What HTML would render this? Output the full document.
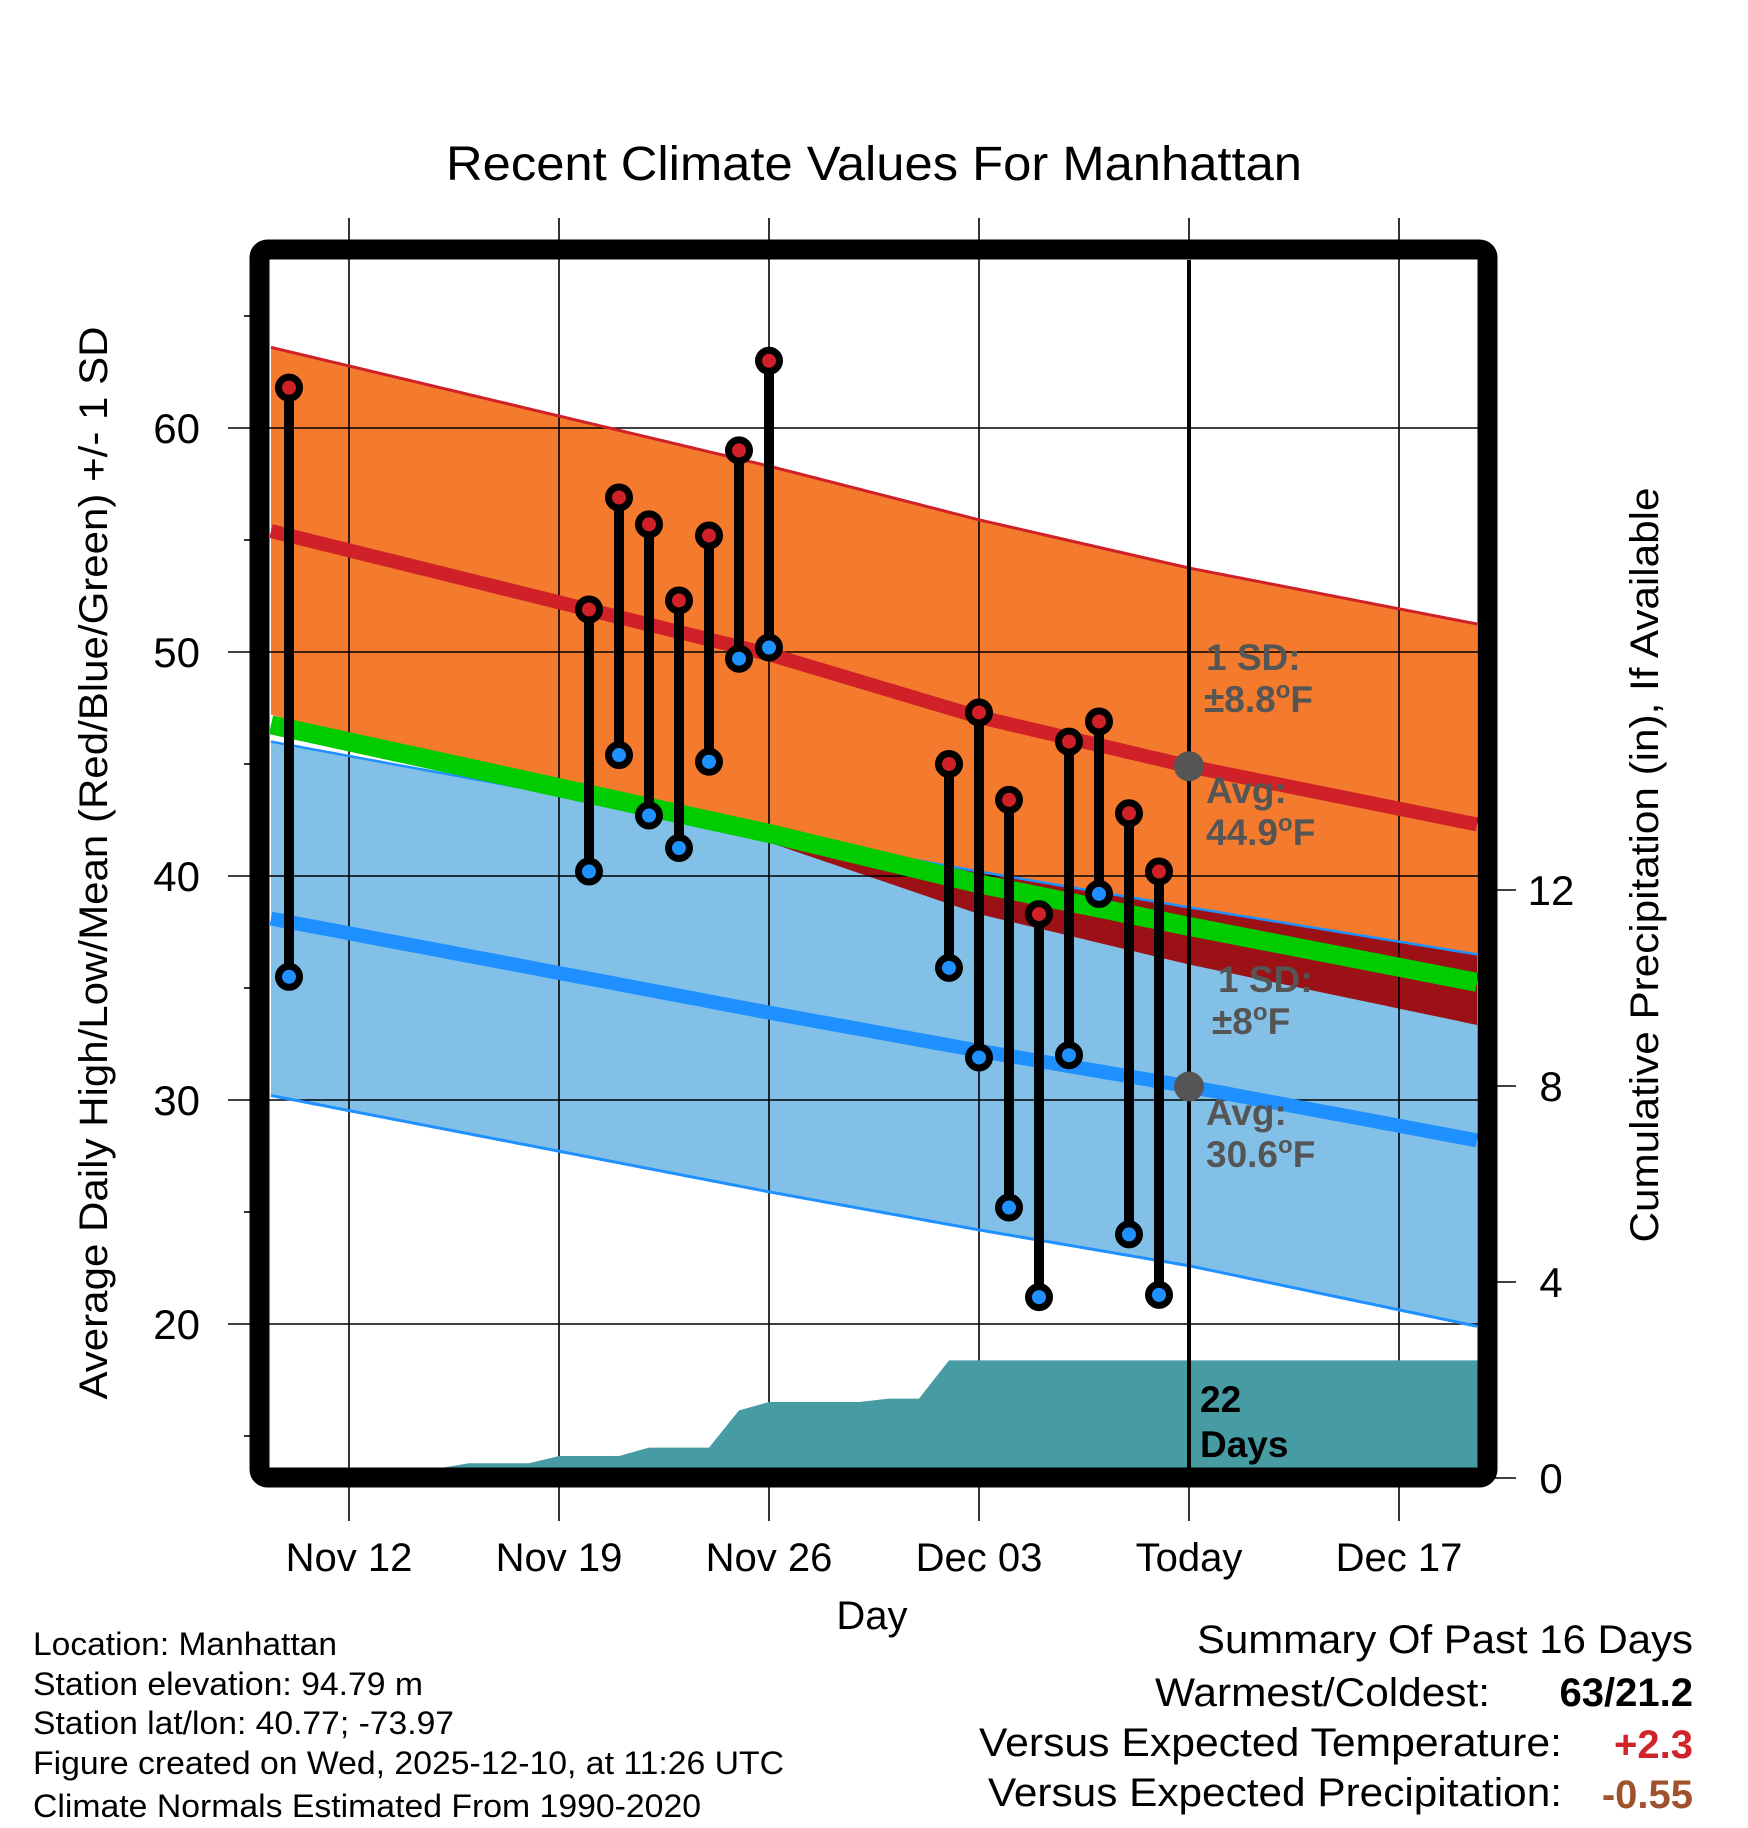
<!DOCTYPE html>
<html><head><meta charset="utf-8"><style>
html,body{margin:0;padding:0;background:#fff;}
svg{display:block;font-family:"Liberation Sans",Arial,sans-serif;}
</style></head><body>
<svg id="chart" width="1748" height="1828" viewBox="0 0 1748 1828" xmlns="http://www.w3.org/2000/svg">
<defs><clipPath id="plotclip"><rect x="270" y="260" width="1208" height="1209"/></clipPath></defs>
<rect width="1748" height="1828" fill="#fff"/>
<text x="874" y="180" font-size="48" text-anchor="middle" textLength="856" lengthAdjust="spacingAndGlyphs">Recent Climate Values For Manhattan</text>
<g id="fills" clip-path="url(#plotclip)"></g>
<g id="grid"></g>
<g id="precip" clip-path="url(#plotclip)"></g>
<g id="normlines" clip-path="url(#plotclip)"></g>
<line x1="1189" y1="260" x2="1189" y2="1469" stroke="#000" stroke-width="4"/>
<g id="annot" font-weight="bold" font-size="37" fill="#555">
<text x="1206" y="670">1 SD:</text>
<text x="1204" y="712">±8.8<tspan font-size="24" dy="-14">o</tspan><tspan dy="14">F</tspan></text>
<text x="1206" y="803">Avg:</text>
<text x="1206" y="845">44.9<tspan font-size="24" dy="-14">o</tspan><tspan dy="14">F</tspan></text>
<text x="1218" y="992">1 SD:</text>
<text x="1212" y="1034">±8<tspan font-size="24" dy="-14">o</tspan><tspan dy="14">F</tspan></text>
<text x="1206" y="1125">Avg:</text>
<text x="1206" y="1167">30.6<tspan font-size="24" dy="-14">o</tspan><tspan dy="14">F</tspan></text>
<text x="1200" y="1412" fill="#000">22</text>
<text x="1200" y="1457" fill="#000">Days</text>
</g>
<g id="avgdots"></g>
<g id="points"></g>
<rect x="259.5" y="249.5" width="1228" height="1228" rx="8" fill="none" stroke="#000" stroke-width="20"/>
<g id="labels"></g>
<text transform="translate(107,863) rotate(-90)" font-size="40" text-anchor="middle" textLength="1073" lengthAdjust="spacingAndGlyphs">Average Daily High/Low/Mean (Red/Blue/Green) +/- 1 SD</text>
<text transform="translate(1658,865) rotate(-90)" font-size="40" text-anchor="middle" textLength="755" lengthAdjust="spacingAndGlyphs">Cumulative Precipitation (in), If Available</text>
<text x="872" y="1629" font-size="40" text-anchor="middle">Day</text>
<g id="footer" font-size="32">
<text x="33" y="1655" textLength="304" lengthAdjust="spacingAndGlyphs">Location: Manhattan</text>
<text x="33" y="1695" textLength="390" lengthAdjust="spacingAndGlyphs">Station elevation: 94.79 m</text>
<text x="33" y="1734" textLength="421" lengthAdjust="spacingAndGlyphs">Station lat/lon: 40.77; -73.97</text>
<text x="33" y="1774" textLength="751" lengthAdjust="spacingAndGlyphs">Figure created on Wed, 2025-12-10, at 11:26 UTC</text>
<text x="33" y="1817" textLength="668" lengthAdjust="spacingAndGlyphs">Climate Normals Estimated From 1990-2020</text>
</g>
<g id="summary" font-size="40" text-anchor="end">
<text x="1693" y="1653" textLength="496" lengthAdjust="spacingAndGlyphs">Summary Of Past 16 Days</text>
<text x="1490" y="1706" textLength="335" lengthAdjust="spacingAndGlyphs">Warmest/Coldest:</text>
<text x="1693" y="1706" font-weight="bold">63/21.2</text>
<text x="1562" y="1756" textLength="583" lengthAdjust="spacingAndGlyphs">Versus Expected Temperature:</text>
<text x="1693" y="1758" font-weight="bold" fill="#D0242A">+2.3</text>
<text x="1562" y="1806" textLength="574" lengthAdjust="spacingAndGlyphs">Versus Expected Precipitation:</text>
<text x="1693" y="1808" font-weight="bold" fill="#A0522D">-0.55</text>
</g>
<script>
// ---- data ----
const obsDays = [-2, 8, 9, 10, 11, 12, 13, 14, 20, 21, 22, 23, 24, 25, 26, 27];
const obsHigh = [61.8, 51.9, 56.9, 55.7, 52.3, 55.2, 59.0, 63.0, 45.0, 47.3, 43.4, 38.3, 46.0, 46.9, 42.8, 40.2];
const obsLow  = [35.5, 40.2, 45.4, 42.7, 41.25, 45.1, 49.7, 50.2, 35.9, 31.9, 25.2, 21.2, 32.0, 39.2, 24.0, 21.3];
const normDays = [-2.6, 14, 21, 28, 37.6];
const highMean = [55.4, 49.9, 47.1, 44.9, 42.3];
const highSD   = [8.2, 8.4, 8.8, 8.85, 8.95];
const lowMean  = [38.1, 33.9, 32.2, 30.6, 28.2];
const lowSD    = [7.9, 8.0, 8.0, 8.0, 8.3];
const precipDays = [-3,-2,-1,0,1,2,3,4,5,6,7,8,9,10,11,12,13,14,15,16,17,18,19,20,21,22,23,24,25,26,27,28,29,30,31,32,33,34,35,36,37,38];
const precipCum  = [0.2,0.2,0.2,0.2,0.2,0.2,0.2,0.3,0.3,0.3,0.45,0.45,0.45,0.62,0.62,0.62,1.38,1.55,1.55,1.55,1.55,1.62,1.62,2.4,2.4,2.4,2.4,2.4,2.4,2.4,2.4,2.4,2.4,2.4,2.4,2.4,2.4,2.4,2.4,2.4,2.4,2.4];
const xTickDays = [0, 7, 14, 21, 28, 35];
const xTickLabels = ["Nov 12", "Nov 19", "Nov 26", "Dec 03", "Today", "Dec 17"];
const yTicks = [20, 30, 40, 50, 60];
const yMinor = [15, 25, 35, 45, 55, 65];
const pTicks = [0, 4, 8, 12];
const todayDay = 28;
// ---- axes ----
const X = d => 349 + d * 30;
const Y = t => 428 + (60 - t) * 22.4;
const P = p => 1478 - p * 49;
const NS = "http://www.w3.org/2000/svg";
function mk(tag, attrs, parent) {
  const e = document.createElementNS(NS, tag);
  for (const k in attrs) e.setAttribute(k, attrs[k]);
  parent.appendChild(e);
  return e;
}
function interp(arr, d) {
  const n = normDays.length;
  let i = 0;
  while (i < n - 2 && d > normDays[i+1]) i++;
  const t = (d - normDays[i]) / (normDays[i+1] - normDays[i]);
  return arr[i] + t * (arr[i+1] - arr[i]);
}
const samp = [];
for (let d = normDays[0]; d <= normDays[normDays.length-1] + 0.001; d += 0.2) samp.push(d);
const hU = d => interp(highMean,d)+interp(highSD,d);
const hL = d => interp(highMean,d)-interp(highSD,d);
const lU = d => interp(lowMean,d)+interp(lowSD,d);
const lL = d => interp(lowMean,d)-interp(lowSD,d);
const mean = d => (interp(highMean,d)+interp(lowMean,d))/2;
function band(fu, fl) {
  const top = samp.map(d => X(d)+","+Y(fu(d)));
  const bot = samp.slice().reverse().map(d => X(d)+","+Y(fl(d)));
  return top.concat(bot).join(" ");
}
function line(f) { return samp.map(d => X(d)+","+Y(f(d))).join(" "); }
const fills = document.getElementById("fills");
let e;
e = mk("polygon", {points: band(hU, hL), fill: "#F47A2D"}, fills);


e = mk("polygon", {points: band(lU, lL), fill: "#82C0E8"}, fills);


e = mk("polygon", {points: band(lU, d => Math.min(hL(d), lU(d))), fill: "#9B1115"}, fills);


// grid
const grid = document.getElementById("grid");
xTickDays.forEach((d, i) => {
  if (d !== todayDay) {
    e = mk("line", {x1: X(d), x2: X(d), y1: 218, y2: 1521, stroke: "#000", "stroke-width": 1.6}, grid);
  } else {
    e = mk("line", {x1: X(d), x2: X(d), y1: 1487, y2: 1521, stroke: "#000", "stroke-width": 1.6}, grid);
    mk("line", {x1: X(d), x2: X(d), y1: 218, y2: 240, stroke: "#000", "stroke-width": 1.6}, grid);
  }
  
  
});
yTicks.forEach(t => {
  e = mk("line", {x1: 228, x2: 1478, y1: Y(t), y2: Y(t), stroke: "#000", "stroke-width": 1.6}, grid);
  
  
});
yMinor.forEach(t => {
  e = mk("line", {x1: 244, x2: 252, y1: Y(t), y2: Y(t), stroke: "#000", "stroke-width": 1.6}, grid);
  
  
});
pTicks.forEach(p => {
  e = mk("line", {x1: 1494, x2: 1516, y1: P(p), y2: P(p), stroke: "#000", "stroke-width": 1.6}, grid);
  
  
});
// precip area
const pg = document.getElementById("precip");
let pts = precipDays.map((d, i) => X(d)+","+P(precipCum[i]));
pts.push(X(precipDays[precipDays.length-1])+","+P(0));
pts.push(X(precipDays[0])+","+P(0));
e = mk("polygon", {points: pts.join(" "), fill: "#479BA2"}, pg);


// norm lines
const nl = document.getElementById("normlines");
e = mk("polyline", {points: line(hU), fill: "none", stroke: "#CF2127", "stroke-width": 3}, nl);


e = mk("polyline", {points: line(lU), fill: "none", stroke: "#1E90FF", "stroke-width": 2.5}, nl);


e = mk("polyline", {points: line(lL), fill: "none", stroke: "#1E90FF", "stroke-width": 3}, nl);


e = mk("polyline", {points: line(d => interp(highMean,d)), fill: "none", stroke: "#CF2127", "stroke-width": 14}, nl);


e = mk("polyline", {points: line(d => interp(lowMean,d)), fill: "none", stroke: "#1E90FF", "stroke-width": 14}, nl);


e = mk("polyline", {points: line(mean), fill: "none", stroke: "#00CC00", "stroke-width": 19}, nl);


// avg dots
const ad = document.getElementById("avgdots");
e = mk("circle", {cx: X(todayDay), cy: Y(interp(highMean,todayDay)), r: 15, fill: "#555"}, ad);


e = mk("circle", {cx: X(todayDay), cy: Y(interp(lowMean,todayDay)), r: 15, fill: "#555"}, ad);


// observations
const pgp = document.getElementById("points");
obsDays.forEach((d, i) => {
  const g = mk("g", {}, pgp);
  
  
  mk("line", {x1: X(d), x2: X(d), y1: Y(obsHigh[i]), y2: Y(obsLow[i]), stroke: "#000", "stroke-width": 10}, g);
  let c = mk("circle", {cx: X(d), cy: Y(obsHigh[i]), r: 10.5, fill: "#CF2127", stroke: "#000", "stroke-width": 7}, g);
  
  
  c = mk("circle", {cx: X(d), cy: Y(obsLow[i]), r: 10.5, fill: "#1E90FF", stroke: "#000", "stroke-width": 7}, g);
  
  
});
// labels
const lb = document.getElementById("labels");
xTickDays.forEach((d, i) => {
  e = mk("text", {x: X(d), y: 1571, "font-size": 40, "text-anchor": "middle"}, lb);
  e.textContent = xTickLabels[i];
  
  
});
yTicks.forEach(t => {
  e = mk("text", {x: 200, y: Y(t) + 15, "font-size": 42, "text-anchor": "end"}, lb);
  e.textContent = t;
  
  
});
pTicks.forEach(p => {
  e = mk("text", {x: 1551, y: P(p) + 15, "font-size": 42, "text-anchor": "middle"}, lb);
  e.textContent = p;
  
  
});
</script>
</svg>
</body></html>
